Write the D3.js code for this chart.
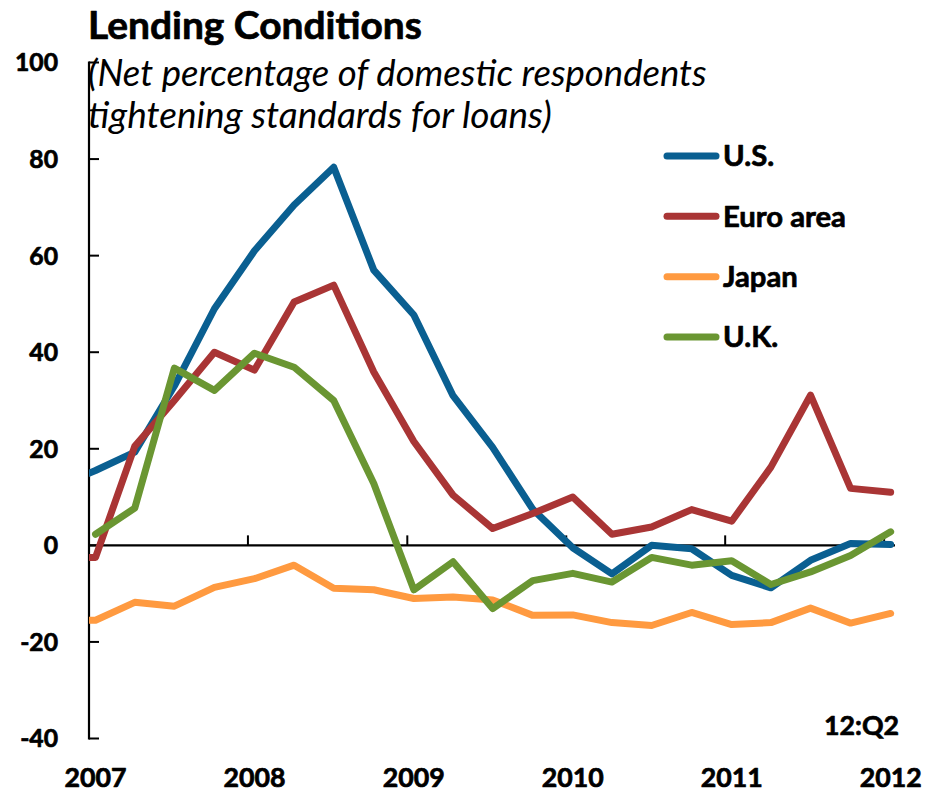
<!DOCTYPE html>
<html>
<head>
<meta charset="utf-8">
<script src="https://cdn.jsdelivr.net/npm/d3@7"></script>
<style>
  html, body { margin: 0; padding: 0; background: #fff; }
  svg { display: block; }
  text { font-family: Lato, "Open Sans", sans-serif; fill: #000; }
  text.heavy { stroke: #000; stroke-width: 0.7px; stroke-linejoin: round; }
</style>
</head>
<body>
<svg id="chart" width="926" height="795"></svg>
<script>
// ---- data (net % of domestic respondents tightening standards) ----
const dates = [
  "2006-10-16",
  "2007-01-16","2007-04-16","2007-07-16","2007-10-16",
  "2008-01-16","2008-04-16","2008-07-16","2008-10-16",
  "2009-01-16","2009-04-16","2009-07-16","2009-10-16",
  "2010-01-16","2010-04-16","2010-07-16","2010-10-16",
  "2011-01-16","2011-04-16","2011-07-16","2011-10-16",
  "2012-01-16"
];
const usValues = [12, 15.5, 19.3, 33, 49, 61, 70.5, 78.3, 57, 47.7, 31, 20.3, 7.5, -0.5, -5.9, 0, -0.7, -6.2, -8.8, -3.1, 0.4, 0.2];
const euroValues = [-2.5, -2.5, 20.5, 30, 40, 36.3, 50.4, 53.9, 35.9, 21.5, 10.4, 3.5, 6.6, 10, 2.3, 3.8, 7.4, 5, 16.2, 31.1, 11.8, 11];
const japanValues = [-15.5, -15.5, -11.8, -12.6, -8.7, -6.9, -4.1, -8.9, -9.2, -11, -10.7, -11.3, -14.5, -14.4, -16, -16.6, -13.9, -16.4, -16, -13, -16.1, -14.1];
const ukValues = [null, 2.3, 7.7, 36.7, 32.1, 39.8, 36.9, 30, 12.8, -9.2, -3.4, -13.1, -7.3, -5.8, -7.6, -2.5, -4.1, -3.2, -8.1, -5.5, -2.1, 2.8];

const seriesNames = ["U.S.", "Euro area", "Japan", "U.K."];
const seriesColors = ["#0A5F91", "#A93535", "#FF9A40", "#6A9632"];
const yTickValues = [-40, -20, 0, 20, 40, 60, 80, 100];
const xTickYears = [2007, 2008, 2009, 2010, 2011, 2012];

const titleText = "Lending Conditions";
const subtitleLines = ["(Net percentage of domestic respondents", "tightening standards for loans)"];
const noteText = "12:Q2";

// ---- setup ----
const svg = d3.select("#chart");
const parse = d3.utcParse("%Y-%m-%d");
const dateObjs = dates.map(parse);
const allSeries = [usValues, euroValues, japanValues, ukValues];

const x = d3.scaleUtc()
  .domain([parse("2007-01-01"), parse("2012-01-26")])
  .range([89, 895]);
const y = d3.scaleLinear().domain([-40, 100]).range([738.5, 62.5]);

function fitSize(sample, targetWidth, weight, style) {
  const t = svg.append("text").style("font-size", "30px")
    .style("font-weight", weight || "normal").style("font-style", style || "normal").text(sample);
  const w = t.node().getComputedTextLength();
  t.remove();
  return 30 * targetWidth / w;
}
function fitText(sel, targetWidth, startSize) {
  sel.style("font-size", startSize + "px");
  const w = sel.node().getComputedTextLength();
  sel.style("font-size", (startSize * targetWidth / w) + "px");
}

const yLabSize = fitSize("100", 43, "bold");
const xLabSize = fitSize("2007", 62, "bold");
const legSize = fitSize("Euro area", 123, "bold");

// ---- title & subtitle ----
const title = svg.append("text").attr("class", "heavy").attr("x", 88).attr("y", 39)
  .style("font-weight", "bold").text(titleText);
fitText(title, 334, 33);

const subBaselines = [86, 128];
const subWidths = [619, 464];
subtitleLines.forEach((t, i) => {
  const s = svg.append("text").attr("x", 88).attr("y", subBaselines[i])
    .style("font-style", "italic").text(t);
  fitText(s, subWidths[i], 26);
});

// ---- axes ----
const axisG = svg.append("g");
axisG.append("line")
  .attr("x1", x.range()[0]).attr("x2", x.range()[0])
  .attr("y1", y(100) - 1).attr("y2", y(-40) + 1)
  .attr("stroke", "#000").attr("stroke-width", 2.2);
axisG.selectAll(".ytick").data(yTickValues).join("line")
  .attr("x1", x.range()[0]).attr("x2", x.range()[0] + 10)
  .attr("y1", d => y(d)).attr("y2", d => y(d))
  .attr("stroke", "#000").attr("stroke-width", 2);
axisG.selectAll(".ylab").data(yTickValues).join("text")
  .attr("class", "heavy")
  .attr("x", 58).attr("y", d => y(d)).attr("dy", "0.36em")
  .attr("text-anchor", "end")
  .style("font-weight", "bold").style("font-size", yLabSize + "px")
  .text(d => d);

axisG.append("line")
  .attr("x1", x.range()[0]).attr("x2", x.range()[1])
  .attr("y1", y(0)).attr("y2", y(0))
  .attr("stroke", "#000").attr("stroke-width", 2.2);
axisG.selectAll(".xtick").data(xTickYears.slice(1)).join("line")
  .attr("x1", d => x(Date.UTC(d, 0, 1))).attr("x2", d => x(Date.UTC(d, 0, 1)))
  .attr("y1", y(0)).attr("y2", y(0) - 10)
  .attr("stroke", "#000").attr("stroke-width", 2);
axisG.selectAll(".xlab").data(xTickYears).join("text")
  .attr("class", "heavy")
  .attr("x", d => x(Date.UTC(d, 0, 16)))
  .attr("y", 787)
  .attr("text-anchor", "middle")
  .style("font-weight", "bold").style("font-size", xLabSize + "px")
  .text(d => d);

// ---- lines ----
svg.append("clipPath").attr("id", "plotClip")
  .append("rect").attr("x", x.range()[0]).attr("y", 0)
  .attr("width", 926 - x.range()[0]).attr("height", 795);

const line = d3.line()
  .defined(d => d.v !== null)
  .x(d => x(d.date))
  .y(d => y(d.v));

const linesG = svg.append("g").attr("clip-path", "url(#plotClip)");
allSeries.forEach((vals, i) => {
  const pts = vals.map((v, j) => ({ date: dateObjs[j], v }));
  linesG.append("path")
    .datum(pts)
    .attr("d", line)
    .attr("fill", "none")
    .attr("stroke", seriesColors[i])
    .attr("stroke-width", 7)
    .attr("stroke-linejoin", "round")
    .attr("stroke-linecap", "round");
});

// ---- legend ----
const legend = svg.append("g");
const legY = d3.scalePoint().domain(seriesNames).range([156, 337]);
seriesNames.forEach((name, i) => {
  legend.append("line")
    .attr("x1", 667).attr("x2", 716)
    .attr("y1", legY(name)).attr("y2", legY(name))
    .attr("stroke", seriesColors[i]).attr("stroke-width", 7)
    .attr("stroke-linecap", "round");
  legend.append("text")
    .attr("class", "heavy")
    .attr("x", 723).attr("y", legY(name)).attr("dy", "0.35em")
    .style("font-weight", "bold").style("font-size", legSize + "px")
    .text(name);
});

// ---- note ----
const note = svg.append("text").attr("class", "heavy").attr("x", 899).attr("y", 735)
  .attr("text-anchor", "end").style("font-weight", "bold").text(noteText);
fitText(note, 75, 26);
</script>
</body>
</html>
